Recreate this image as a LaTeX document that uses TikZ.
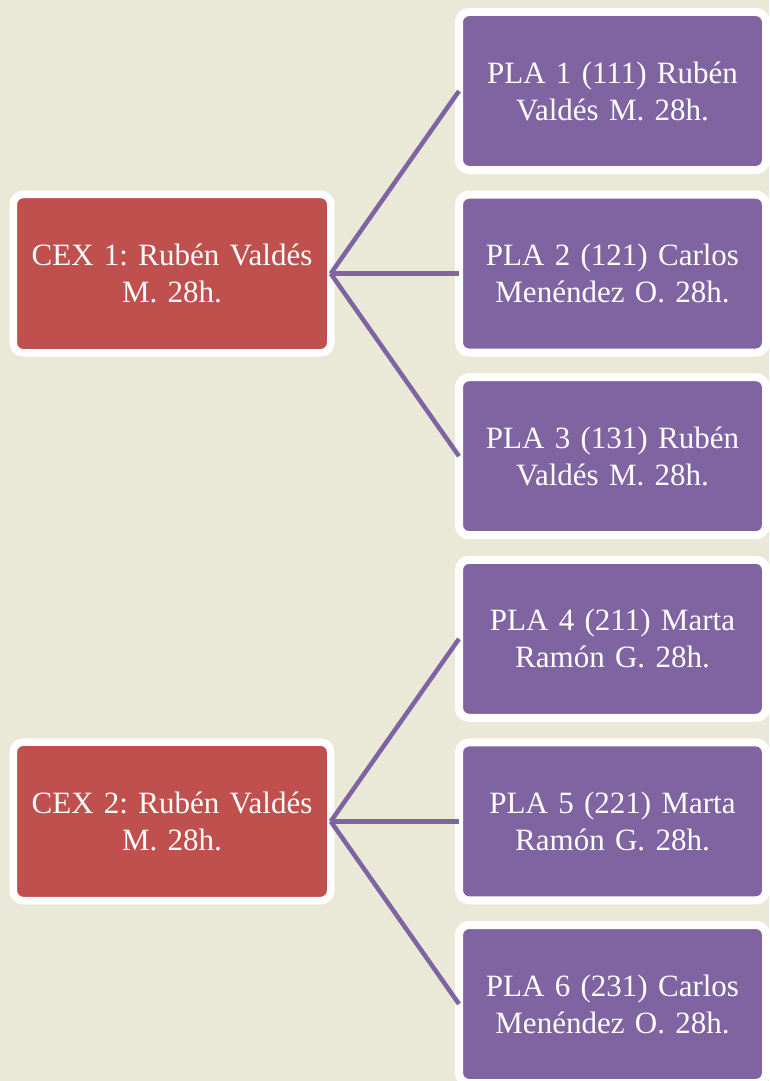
\documentclass[tikz,border=0pt]{standalone}
\usepackage{fontspec}
\setmainfont{Liberation Serif}
\usetikzlibrary{shadows}
\definecolor{bgc}{HTML}{EAE8D7}
\definecolor{cexred}{HTML}{C0504D}
\definecolor{plapurple}{HTML}{8064A2}
\tikzset{
  boxbase/.style={rounded corners=10pt, draw=white, inner sep=0pt, outer sep=0pt,
    text=white, align=center, font=\frenchspacing\fontsize{31}{37}\selectfont,
    drop shadow={opacity=0.25, shadow xshift=1.5pt, shadow yshift=-3pt}},
  cexbox/.style={boxbase, fill=cexred, line width=7.5pt, minimum width=317.5pt, minimum height=158.5pt, text width=300pt},
  plabox/.style={boxbase, fill=plapurple, line width=8pt, minimum width=307pt, minimum height=158pt, text width=295pt},
  link/.style={draw=plapurple, line width=4.5pt}
}
\begin{document}
\begin{tikzpicture}[x=1pt,y=-1pt]
\fill[bgc] (0,0) rectangle (769,1081);
\useasboundingbox (0,0) rectangle (769,1081);
\node[cexbox] (c1) at (172,273.6) {CEX 1: Rubén Valdés\\M. 28h.};
\node[cexbox] (c2) at (172,821.4) {CEX 2: Rubén Valdés\\M. 28h.};
\node[plabox] (p1) at (612.5,91)   {PLA 1 (111) Rubén\\Valdés M. 28h.};
\node[plabox] (p2) at (612.5,273.6) {PLA 2 (121) Carlos\\Menéndez O. 28h.};
\node[plabox] (p3) at (612.5,456.2) {PLA 3 (131) Rubén\\Valdés M. 28h.};
\node[plabox] (p4) at (612.5,638.8) {PLA 4 (211) Marta\\Ramón G. 28h.};
\node[plabox] (p5) at (612.5,821.4) {PLA 5 (221) Marta\\Ramón G. 28h.};
\node[plabox] (p6) at (612.5,1004) {PLA 6 (231) Carlos\\Menéndez O. 28h.};
\draw[link] (c1.east) -- (p1.west);
\draw[link] (c1.east) -- (p2.west);
\draw[link] (c1.east) -- (p3.west);
\draw[link] (c2.east) -- (p4.west);
\draw[link] (c2.east) -- (p5.west);
\draw[link] (c2.east) -- (p6.west);
\end{tikzpicture}
\end{document}
